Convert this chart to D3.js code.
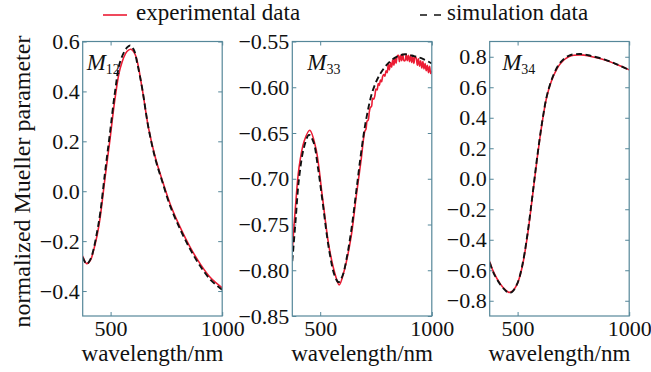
<!DOCTYPE html>
<html>
<head>
<meta charset="utf-8">
<script src="https://cdn.jsdelivr.net/npm/d3@7"></script>
<style>
  body { margin: 0; background: #fff; }
  svg { display: block; }
</style>
</head>
<body>
<div id="chart"></div>
<script>
// wavelength axis
const xDomain = [375, 1000];
const xTicks = [500, 1000];

// M12
const wl12Exp = [375, 393, 410, 423, 440, 453, 475, 498, 520, 543, 573, 591, 611, 641, 670, 701, 731, 768, 813, 858, 903, 948, 1000];
const m12Exp = [-0.26, -0.29, -0.276, -0.24, -0.175, -0.107, 0.053, 0.213, 0.373, 0.493, 0.56, 0.569, 0.546, 0.413, 0.253, 0.133, 0.045, -0.054, -0.147, -0.227, -0.293, -0.347, -0.387];
const wl12Sim = [375, 393, 410, 423, 440, 453, 475, 498, 520, 543, 573, 588, 605, 620, 641, 670, 701, 731, 768, 813, 858, 903, 948, 1000];
const m12Sim = [-0.265, -0.292, -0.272, -0.235, -0.16, -0.09, 0.075, 0.24, 0.40, 0.52, 0.575, 0.584, 0.565, 0.51, 0.415, 0.252, 0.128, 0.04, -0.062, -0.155, -0.235, -0.302, -0.355, -0.395];

// M33 (experimental is noisy above ~700 nm)
const wl33Exp = [375, 390, 405, 428, 453, 480, 510, 540, 570, 585, 608, 638, 661, 683,
  700, 705, 710, 715, 720, 725, 730, 735, 740, 745, 750, 755, 760, 765, 770, 775, 780, 785, 790, 795,
  800, 805, 810, 815, 820, 825, 830, 835, 840, 845, 850, 855, 860, 865, 870, 875, 880, 885, 890, 895,
  900, 905, 910, 915, 920, 925, 930, 935, 940, 945, 950, 955, 960, 965, 970, 975, 980, 985, 990, 995, 1000];
const m33Exp = [-0.778, -0.728, -0.688, -0.659, -0.647, -0.666, -0.720, -0.775, -0.807, -0.816, -0.800, -0.764, -0.720, -0.680,
  -0.648, -0.646, -0.637, -0.636, -0.627, -0.622, -0.621, -0.612, -0.613, -0.609, -0.602, -0.603, -0.596, -0.598, -0.592, -0.594, -0.588, -0.586, -0.588, -0.582,
  -0.584, -0.575, -0.581, -0.573, -0.578, -0.570, -0.576, -0.568, -0.574, -0.566, -0.565, -0.572, -0.565, -0.571, -0.564, -0.571, -0.571, -0.564, -0.571, -0.565,
  -0.572, -0.565, -0.573, -0.566, -0.574, -0.567, -0.568, -0.576, -0.569, -0.577, -0.571, -0.579, -0.572, -0.580, -0.574, -0.582, -0.576, -0.584, -0.577, -0.585, -0.582];
const wl33Sim = [375, 390, 405, 428, 450, 470, 490, 510, 540, 565, 582, 600, 620, 640, 661, 683, 706, 735, 765, 800, 840, 880, 920, 960, 1000];
const m33Sim = [-0.79, -0.745, -0.70, -0.665, -0.652, -0.660, -0.688, -0.724, -0.778, -0.806, -0.813, -0.806, -0.785, -0.755, -0.715, -0.672, -0.635, -0.604, -0.587, -0.575, -0.567, -0.564, -0.566, -0.569, -0.574];

// M34
const wl34Exp = [375, 393, 423, 445, 461, 475, 498, 520, 543, 566, 588, 611, 633, 663, 693, 731, 783, 828, 888, 948, 1000];
const m34Exp = [-0.542, -0.614, -0.691, -0.728, -0.745, -0.739, -0.691, -0.582, -0.386, -0.124, 0.137, 0.377, 0.551, 0.682, 0.758, 0.802, 0.812, 0.802, 0.780, 0.747, 0.714];
const wl34Sim = [375, 393, 423, 445, 461, 475, 498, 520, 543, 566, 588, 611, 633, 663, 693, 731, 783, 828, 888, 948, 1000];
const m34Sim = [-0.55, -0.62, -0.695, -0.732, -0.748, -0.742, -0.69, -0.575, -0.375, -0.115, 0.145, 0.382, 0.555, 0.688, 0.765, 0.808, 0.818, 0.806, 0.783, 0.749, 0.713];

// y ticks per panel
const yTicks12 = [0.6, 0.4, 0.2, 0.0, -0.2, -0.4];
const yTicks33 = [-0.55, -0.60, -0.65, -0.70, -0.75, -0.80, -0.85];
const yTicks34 = [0.8, 0.6, 0.4, 0.2, 0.0, -0.2, -0.4, -0.6, -0.8];

const legendLabels = ["experimental data", "simulation data"];
const panelSubs = ["12", "33", "34"];

const zip = (a, b) => a.map((d, i) => [d, b[i]]);

const panels = [
  { left: 82.7, labelDx: 4, yDomain: [-0.5, 0.6], yTicks: yTicks12, fmt: d3.format(".1f"), exp: zip(wl12Exp, m12Exp), sim: zip(wl12Sim, m12Sim), sub: panelSubs[0] },
  { left: 292.3, labelDx: 15, yDomain: [-0.85, -0.55], yTicks: yTicks33, fmt: d3.format(".2f"), exp: zip(wl33Exp, m33Exp), sim: zip(wl33Sim, m33Sim), sub: panelSubs[1] },
  { left: 489.7, labelDx: 12.5, yDomain: [-0.9, 0.9], yTicks: yTicks34, fmt: d3.format(".1f"), exp: zip(wl34Exp, m34Exp), sim: zip(wl34Sim, m34Sim), sub: panelSubs[2] },
];

const W = 651, H = 372;
const pw = 139.5, plotTop = 41.5, plotBottom = 316;
const font = "'Liberation Serif', 'Times New Roman', serif";
const frame = "#558799";
const red = "#ec1c34";

const svg = d3.select("#chart").append("svg")
  .attr("width", W).attr("height", H)
  .attr("font-family", font);

svg.append("rect").attr("width", W).attr("height", H).attr("fill", "#fff");

panels.forEach((p, i) => {
  const x = d3.scaleLinear().domain(xDomain).range([p.left, p.left + pw]);
  const y = d3.scaleLinear().domain(p.yDomain).range([plotBottom, plotTop]);

  svg.append("clipPath").attr("id", "clip" + i)
    .append("rect").attr("x", p.left).attr("y", plotTop).attr("width", pw).attr("height", plotBottom - plotTop);

  const styleAxis = (g) => {
    g.attr("font-family", font).attr("font-size", 22);
    g.select(".domain").remove();
    g.selectAll(".tick line").attr("stroke", frame).attr("stroke-width", 1);
    g.selectAll(".tick text").attr("fill", "#111");
  };

  // left axis with labels, ticks inward
  svg.append("g").attr("transform", `translate(${p.left},0)`)
    .call(d3.axisLeft(y).tickValues(p.yTicks).tickFormat(p.fmt).tickSize(-4).tickPadding(3))
    .call(styleAxis);
  // right ticks
  svg.append("g").attr("transform", `translate(${p.left + pw},0)`)
    .call(d3.axisRight(y).tickValues(p.yTicks).tickFormat("").tickSize(-4))
    .call(styleAxis);
  // bottom axis
  svg.append("g").attr("transform", `translate(0,${plotBottom})`)
    .call(d3.axisBottom(x).tickValues(xTicks).tickFormat(d3.format("d")).tickSize(-4).tickPadding(4.5))
    .call(styleAxis);
  // top ticks
  svg.append("g").attr("transform", `translate(0,${plotTop})`)
    .call(d3.axisTop(x).tickValues(xTicks).tickFormat("").tickSize(-4))
    .call(styleAxis);

  const line = d3.line().x(d => x(d[0])).y(d => y(d[1])).curve(d3.curveCatmullRom.alpha(0.5));

  const plot = svg.append("g").attr("clip-path", `url(#clip${i})`);
  plot.append("path").datum(p.exp)
    .attr("d", line).attr("fill", "none")
    .attr("stroke", red).attr("stroke-width", 1.6);
  plot.append("path").datum(p.sim)
    .attr("d", line).attr("fill", "none")
    .attr("stroke", "#111").attr("stroke-width", 1.9)
    .attr("stroke-dasharray", "6,3.5");

  // frame
  svg.append("rect")
    .attr("x", p.left).attr("y", plotTop).attr("width", pw).attr("height", plotBottom - plotTop)
    .attr("fill", "none").attr("stroke", frame).attr("stroke-width", 1.2);

  // panel label M_ij
  const lbl = svg.append("text")
    .attr("x", p.left + p.labelDx).attr("y", 70)
    .attr("font-size", 23).attr("fill", "#111");
  lbl.append("tspan").attr("font-style", "italic").text("M");
  lbl.append("tspan").attr("dy", 4).attr("font-size", 14).text(p.sub);

  // x axis title
  svg.append("text")
    .attr("x", p.left + pw / 2).attr("y", 361)
    .attr("text-anchor", "middle")
    .attr("font-size", 23).attr("fill", "#111")
    .text("wavelength/nm");
});

// y axis title
svg.append("text")
  .attr("transform", "translate(30,181.5) rotate(-90)")
  .attr("text-anchor", "middle")
  .attr("font-size", 24).attr("fill", "#111")
  .text("normalized Mueller parameter");

// legend
svg.append("line").attr("x1", 103).attr("x2", 127).attr("y1", 15).attr("y2", 15)
  .attr("stroke", red).attr("stroke-width", 1.6);
svg.append("text").attr("x", 136).attr("y", 20)
  .attr("font-size", 23).attr("fill", "#111").text(legendLabels[0]);

svg.append("line").attr("x1", 420).attr("x2", 441).attr("y1", 15).attr("y2", 15)
  .attr("stroke", "#111").attr("stroke-width", 1.6).attr("stroke-dasharray", "7,7");
svg.append("text").attr("x", 447).attr("y", 20)
  .attr("font-size", 23).attr("fill", "#111").text(legendLabels[1]);
</script>
</body>
</html>
